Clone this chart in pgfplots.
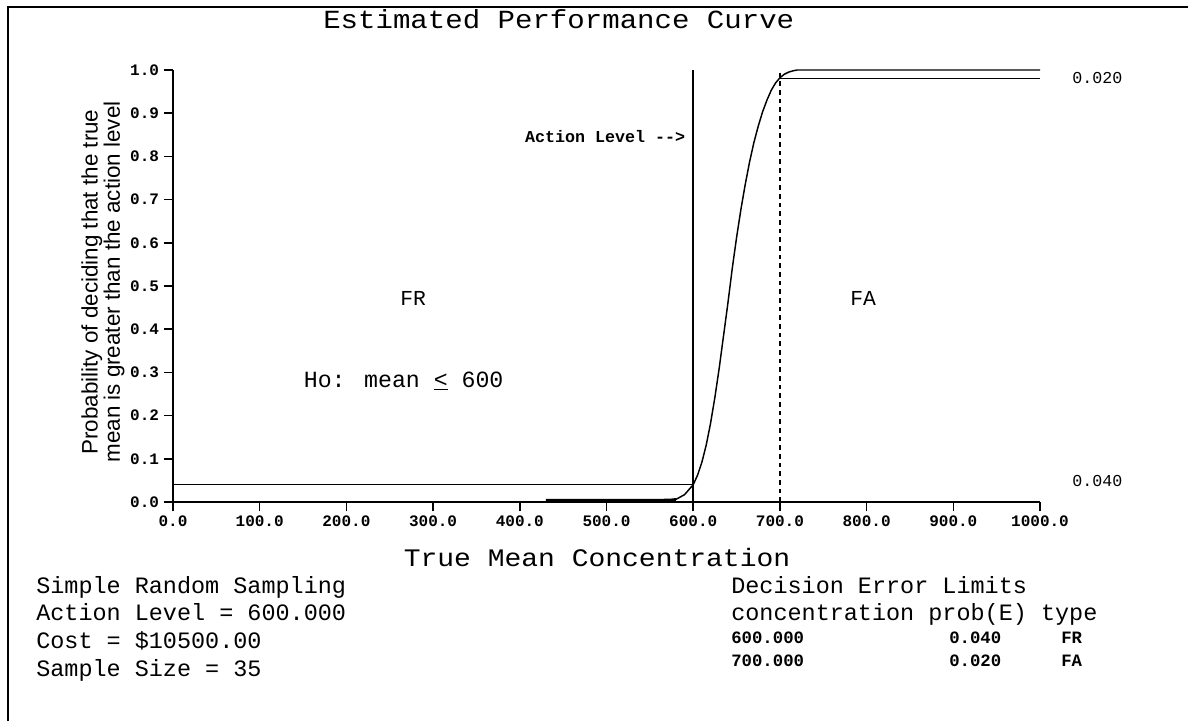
\documentclass[border=0pt]{standalone}
\usepackage{fontspec}
\usepackage{graphicx}
\setmainfont{Liberation Mono}
\newfontfamily\sansf{Liberation Sans}
\newfontfamily\monof{Liberation Mono}
\newfontfamily\monob{Liberation Mono Bold}
\usepackage{pgfplots}
\pgfplotsset{compat=1.18}
\newcommand\fs[2]{\fontsize{#1}{#2}\selectfont}
\begin{document}
\begin{tikzpicture}
\begin{scope}[x=0.75pt,y=0.75pt]
\useasboundingbox (0,0) rectangle (1188,721);
% frame
\draw[line width=1.5pt] (8,0) -- (8,714) -- (1188,714);
% title
\node[anchor=base west, inner sep=0pt, font=\monof\fs{21.8pt}{24pt}] at (323,692) {\scalebox{1}[0.9]{Estimated Performance Curve}};
% y label
\node[rotate=90, align=center, font=\sansf\fs{16.8pt}{14.5pt}] at (103,439) {Probability of deciding that the true\\mean is greater than the action level};
% x label
\node[anchor=base, inner sep=0pt, font=\monof\fs{21pt}{24pt}] at (597,154) {\scalebox{1}[0.9]{True Mean Concentration}};
\end{scope}
\begin{axis}[
  at={(129.75pt,164.25pt)}, anchor=south west,
  scale only axis, width=650.25pt, height=324pt,
  xmin=0, xmax=1000, ymin=0, ymax=1,
  axis lines=left, axis line style={-, line width=1.1pt},
  xtick={0,100,200,300,400,500,600,700,800,900,1000},
  ytick={0,0.1,0.2,0.3,0.4,0.5,0.6,0.7,0.8,0.9,1.0},
  tick align=outside, major tick length=7pt,
  tick style={line width=1.1pt, black},
  /pgf/number format/assume math mode=true,
  /pgf/number format/fixed,
  /pgf/number format/fixed zerofill,
  /pgf/number format/precision=1,
  /pgf/number format/1000 sep={},
  tick label style={font=\monob\fs{12pt}{14pt}},
  clip=false,
]
% decision error limit lines
\addplot[black, line width=1.1pt] coordinates {(0,0.04) (600,0.04)};
\addplot[black, line width=1.1pt] coordinates {(700,0.98) (1000,0.98)};
% action level
\addplot[black, line width=1.1pt] coordinates {(600,0) (600,1)};
\addplot[black, line width=1.1pt, dash pattern=on 3.5pt off 3pt] coordinates {(700,0) (700,1)};
% performance curve
\addplot[black, line width=2pt] coordinates {(430,0.004) (500,0.004) (560,0.004) (575,0.005) (580,0.006)};
\addplot[black, line width=1.1pt] coordinates {
(580,0.006) (590,0.017) (600,0.040) (605,0.062) (610,0.092) (615,0.132)
(620,0.182) (625,0.242) (630,0.310) (635,0.385) (640,0.460) (645,0.540)
(650,0.612) (655,0.677) (660,0.735) (665,0.787) (670,0.832) (675,0.870)
(680,0.903) (685,0.930) (690,0.953) (695,0.970) (700,0.982) (705,0.990)
(710,0.995) (715,0.998) (720,1.000) (1000,1.000)};
% annotations
\node[anchor=east, font=\monob\fs{12.5pt}{14pt}] at (axis cs:596,0.845) {Action Level -{}-{}>};
\node[anchor=west, font=\monof\fs{12.5pt}{14pt}] at (axis cs:1032,0.982) {0.020};
\node[anchor=west, font=\monof\fs{12.5pt}{14pt}] at (axis cs:1032,0.049) {0.040};
\node[font=\monof\fs{16pt}{18pt}] at (axis cs:277,0.472) {FR};
\node[font=\monof\fs{16pt}{18pt}] at (axis cs:796,0.472) {FA};
\node[font=\monof\fs{17.4pt}{20pt}] at (axis cs:266,0.28) {Ho: mean \underline{<} 600};
\end{axis}
\begin{scope}[x=0.75pt,y=0.75pt]
\begin{scope}[every node/.style={anchor=base west, inner sep=0pt, font=\monof\fs{17.6pt}{20pt}}]
\node at (36,127.5) {Simple Random Sampling};
\node at (36,100.5) {Action Level = 600.000};
\node at (36,72.5) {Cost = \$10500.00};
\node at (36,44.5) {Sample Size = 35};
\node at (731,127.5) {Decision Error Limits};
\node at (731,100.5) {concentration prob(E) type};
\end{scope}
\begin{scope}[every node/.style={anchor=base west, inner sep=0pt, font=\monob\fs{13pt}{15pt}}]
\node at (731,78) {600.000};
\node at (949,78) {0.040};
\node at (1061,78) {FR};
\node at (731,55) {700.000};
\node at (949,55) {0.020};
\node at (1061,55) {FA};
\end{scope}
\end{scope}
\end{tikzpicture}
\end{document}
